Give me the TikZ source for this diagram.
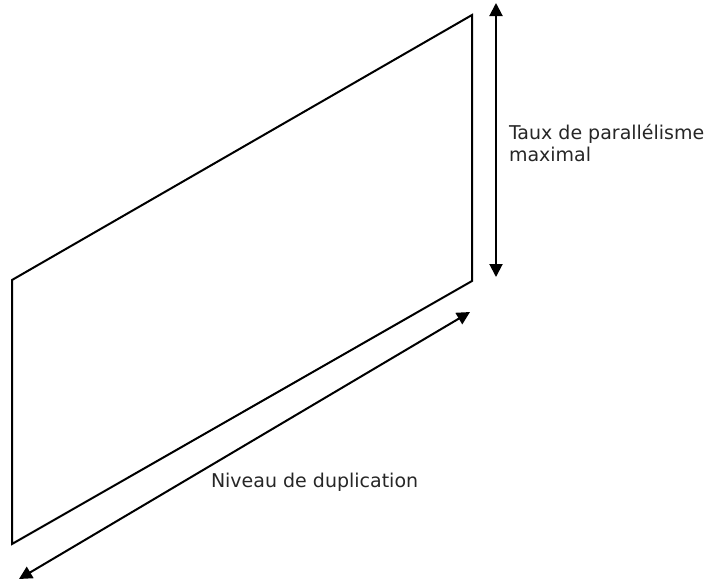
\documentclass[tikz,border=0pt]{standalone}
\usepackage{fontspec}
\setmainfont{DejaVu Sans}
\usetikzlibrary{arrows.meta, positioning}

\begin{document}
\begin{tikzpicture}[
  x=1pt, y=-1pt,
  line width=2pt,
  arr/.style={{Triangle[length=13pt,width=13pt]}-{Triangle[length=13pt,width=13pt]}},
  lbl/.style={inner sep=0pt, align=left, text=black!85, font=\fontsize{19}{22}\selectfont}
  ]
  \useasboundingbox (0,0) rectangle (704,584);

  \coordinate (tl) at (12,280);
  \coordinate (tr) at (472,15);
  \coordinate (br) at (472,281);
  \coordinate (bl) at (12,544);
  \draw (tl) -- (tr) -- (br) -- (bl) -- cycle;

  \coordinate (vtop) at (496,3);
  \coordinate (vbot) at (496,277);
  \draw[arr] (vtop) -- (vbot);

  \coordinate (dtop) at (470,312);
  \coordinate (dbot) at (19,579);
  \draw[arr] (dbot) -- (dtop);

  \node[lbl, anchor=base west] (taux) at (508,161) {Taux de parallélisme\\maximal};
  \node[lbl, anchor=base west] (niveau) at (210,487) {Niveau de duplication};
\end{tikzpicture}
\end{document}
